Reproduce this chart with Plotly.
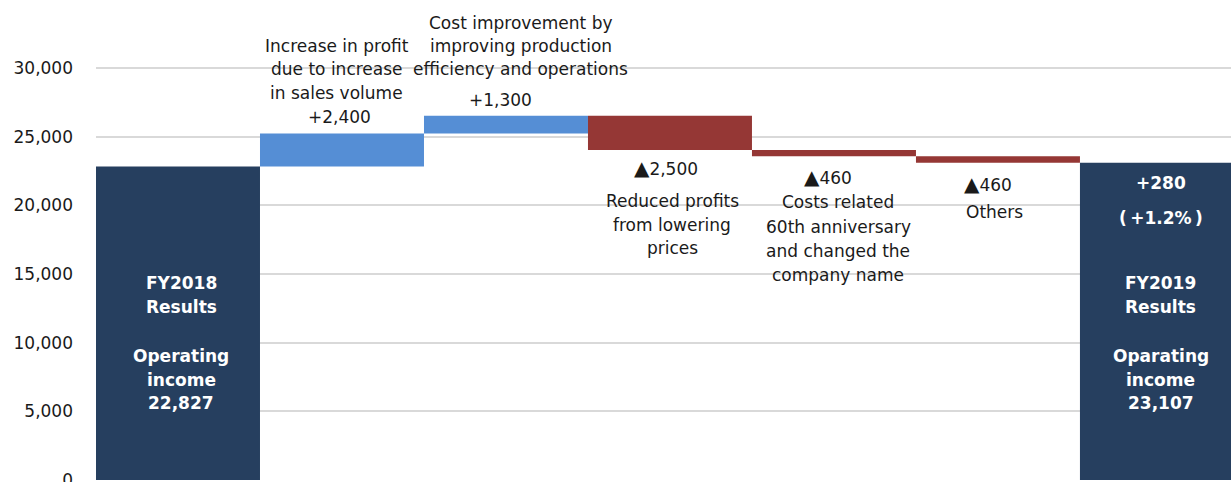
import plotly.graph_objects as go

# ---- data ----
categories = ["FY2018 Results", "Sales volume", "Production efficiency",
              "Price reduction", "60th anniversary", "Others", "FY2019 Results"]
measures = ["absolute", "relative", "relative", "relative", "relative", "relative", "total"]
values = [22827, 2400, 1300, -2500, -460, -460, 0]

tick_vals = [0, 5000, 10000, 15000, 20000, 25000, 30000]
tick_text = ["0", "5,000", "10,000", "15,000", "20,000", "25,000", "30,000"]

TRI = "<span style='font-size:20px'>▲</span>"
text_sales = ["Increase in profit", "due to increase", "in sales volume", "+2,400"]
text_eff = ["Cost improvement by", "improving production", "efficiency and operations", "+1,300"]
text_price = [TRI + "2,500", "Reduced profits", "from lowering", "prices"]
text_anniv = [TRI + "460", "Costs related", "60th anniversary", "and changed the", "company name"]
text_others = [TRI + "460", "Others"]
text_fy18 = ["FY2018", "Results", "Operating", "income", "22,827"]
text_fy19 = ["FY2019", "Results", "Oparating", "income", "23,107"]
text_fy19_top = ["+280", "(\u2009+1.2%\u2009)"]

# cumulative levels
levels = []
run = 0
for m, v in zip(measures, values):
    if m == "absolute":
        run = v
    elif m == "relative":
        run += v
    levels.append(run)
tops = []
bottoms = []
prev = 0
for i, (m, v) in enumerate(zip(measures, values)):
    if m in ("absolute", "total"):
        tops.append(levels[i]); bottoms.append(0)
    else:
        tops.append(max(prev, levels[i])); bottoms.append(min(prev, levels[i]))
    prev = levels[i]

NAVY = "#263f5f"
BLUE = "#558ed5"
RED = "#953735"
FONT = "DejaVu Sans"

fig = go.Figure(go.Waterfall(
    x=list(range(len(categories))),
    measure=measures,
    y=values,
    width=1.0,
    connector=dict(visible=False),
    increasing=dict(marker=dict(color=BLUE)),
    decreasing=dict(marker=dict(color=RED)),
    totals=dict(marker=dict(color=NAVY)),
    textinfo="none",
    hoverinfo="skip",
))

annotations = []

def add_lines(xi, anchor, lines, shifts, xshifts, color="#1a1a1a", bold=False, size=17):
    for t, s, xs in zip(lines, shifts, xshifts):
        annotations.append(dict(
            x=xi, y=anchor, xref="x", yref="y", text=f"<b>{t}</b>" if bold else t,
            showarrow=False, yanchor="middle", xanchor="center", yshift=s, xshift=xs,
            font=dict(family=FONT, size=size, color=color)))

add_lines(1, tops[1], text_sales, [88, 64.5, 40.5, 16.5], [-5, -5, -5, -2])
add_lines(2, tops[2], text_eff, [93, 70, 47, 15.5], [15, 15, 15, -5])
add_lines(3, bottoms[3], text_price, [-17.5, -50.5, -74.5, -98], [-4, 2.5, 2.5, 2.5])
add_lines(4, bottoms[4], text_anniv, [-21, -46, -70.5, -94.5, -119], [-6, 4.5, 4.5, 4.5, 4.5])
add_lines(5, bottoms[5], text_others, [-21, -49], [-10, -3])
add_lines(6, tops[6], text_fy19_top, [-20.5, -55.5], [-1, -1], color="white", bold=True)
inner = [197, 173, 124, 100.5, 77]
add_lines(0, 0, text_fy18, inner, [3] * 5, color="white", bold=True)
add_lines(6, 0, text_fy19, inner, [-1] * 5, color="white", bold=True)

fig.update_layout(
    width=1231, height=482,
    margin=dict(l=96, r=0, t=0, b=1, autoexpand=False),
    plot_bgcolor="white", paper_bgcolor="white",
    showlegend=False,
    annotations=annotations,
    xaxis=dict(visible=False, range=[-0.5, 6.421], automargin=False),
    yaxis=dict(range=[-73, 34951], tickvals=tick_vals, ticktext=tick_text,
               showgrid=True, gridcolor="#d9d9d9", gridwidth=1.5,
               zeroline=False, showline=False, ticks="", automargin=False,
               ticklabelstandoff=22, ticklabeloverflow="allow",
               tickfont=dict(family=FONT, size=17, color="#1a1a1a")),
)

fig.write_html("out.html", config={"displayModeBar": False},
               post_script="document.body.style.margin='0';document.body.style.padding='0';document.body.style.overflow='hidden';")
